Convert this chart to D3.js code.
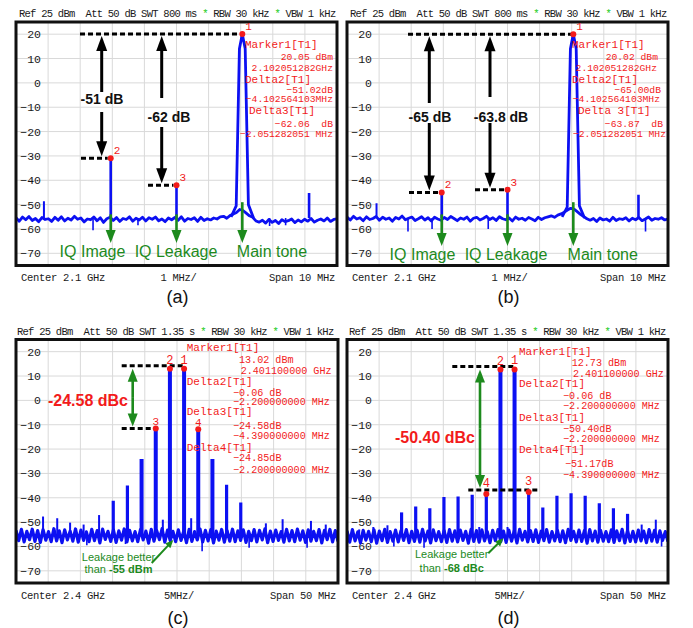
<!DOCTYPE html>
<html><head><meta charset="utf-8">
<script src="https://cdn.jsdelivr.net/npm/d3@7"></script>
<style>
body{margin:0;background:#fff;}
svg{display:block;}
text{white-space:pre;}
</style></head><body>
<svg id="c" width="693" height="628"></svg>
<script>
// ---------------- DATA ----------------
const yTicks = [20,10,0,-10,-20,-30,-40,-50,-60,-70];
const headerAB = ["Ref 25 dBm  Att 50 dB SWT 800 ms ", "*", " RBW 30 kHz ", "*", " VBW 1 kHz"];
const headerCD = ["Ref 25 dBm  Att 50 dB SWT 1.35 s ", "*", " RBW 30 kHz ", "*", " VBW 1 kHz"];
const footAB = ["Center 2.1 GHz", "1 MHz/", "Span 10 MHz"];
const footCD = ["Center 2.4 GHz", "5MHz/", "Span 50 MHz"];
const spanAB = 10, spanCD = 50;

// noise floor traces (dBm), evenly over the span
const aNoise = [-55.4,-56.8,-55.1,-56.2,-54.9,-56.5,-55.7,-57.0,-55.3,-56.1,
-55.8,-56.9,-55.2,-56.4,-55.0,-56.7,-55.6,-56.3,-54.8,-56.0,
-55.5,-57.1,-55.9,-56.2,-55.1,-56.6,-55.4,-57.3,-55.8,-55.2,
-56.5,-55.3,-56.9,-55.7,-56.1,-55.0,-56.8,-55.6,-56.3,-55.2,
-56.7,-55.4,-56.0,-55.1,-56.6,-55.9,-57.0,-55.5,-56.2,-55.3,
-56.4,-55.0,-56.8,-55.7,-56.1,-55.4,-56.9,-55.2,-56.5,-55.8,
-56.3,-55.5,-55.9,-55.0,-54.8,-55.6,-54.5,-53.9,-53.2,-52.0,
-52.4,-53.5,-54.6,-55.2,-56.7,-57.2,-56.4,-57.6,-56.1,-57.3,
-56.5,-57.8,-56.2,-57.0,-56.6,-55.9,-57.4,-56.3,-57.1,-56.0,
-56.8,-55.7,-57.2,-56.4,-55.9,-56.7,-55.5,-56.9,-56.1,-55.8];
const bNoise = [-55.1,-56.3,-54.8,-55.9,-55.4,-56.6,-55.0,-56.1,-55.7,-54.9,
-56.4,-55.2,-56.0,-55.5,-56.8,-55.3,-55.9,-54.7,-56.2,-55.6,
-55.1,-56.5,-55.8,-55.0,-56.3,-55.4,-56.7,-55.2,-55.9,-56.4,
-55.3,-56.1,-54.9,-55.7,-56.6,-55.5,-56.0,-55.1,-56.8,-55.6,
-55.2,-56.3,-55.7,-54.8,-56.1,-55.4,-56.5,-55.0,-55.8,-56.2,
-55.5,-56.7,-55.1,-56.0,-55.6,-56.4,-55.3,-55.9,-56.6,-55.2,
-56.1,-55.4,-55.0,-54.6,-55.2,-54.3,-53.8,-53.1,-52.2,-51.5,
-51.8,-52.9,-54.0,-54.9,-55.8,-56.4,-55.7,-56.9,-55.5,-56.3,
-55.9,-56.8,-55.2,-56.5,-55.8,-56.1,-55.4,-56.7,-55.6,-56.2,
-55.3,-56.6,-55.9,-55.1,-56.4,-55.7,-56.0,-55.4,-56.3,-55.8];
const cNoise = [-53.4,-57.6,-53.0,-58.1,-53.8,-57.2,-52.9,-57.9,-53.5,-58.3,
-53.1,-57.4,-53.9,-58.0,-52.7,-57.7,-53.6,-58.4,-53.2,-57.3,
-53.7,-57.8,-52.8,-58.2,-53.3,-57.5,-54.0,-58.0,-53.0,-57.6,
-53.5,-58.5,-52.9,-57.1,-53.8,-57.9,-53.2,-58.3,-53.6,-57.4,
-52.8,-58.1,-53.4,-57.7,-53.9,-58.0,-53.1,-57.3,-53.7,-58.6,
-53.0,-57.8,-53.5,-57.2,-52.7,-58.2,-53.3,-57.6,-53.8,-58.0,
-53.2,-57.5,-53.6,-58.4,-53.0,-57.9,-53.9,-57.3,-52.8,-58.1,
-53.4,-57.7,-53.1,-58.5,-53.7,-57.4,-53.0,-58.2,-53.5,-57.8,
-52.9,-58.0,-53.6,-57.5,-53.2,-58.3,-53.8,-57.6,-53.1,-58.1,
-53.4,-57.3,-52.8,-58.4,-53.7,-57.9,-53.3,-57.5,-53.9,-58.2,
-53.0,-57.7,-53.5,-58.0,-52.9,-57.4,-53.6,-58.3,-53.2,-57.8,
-53.8,-57.6,-53.1,-58.5,-53.4,-57.2,-53.0,-58.1,-53.5,-57.9];
const dNoise = [-53.6,-58.2,-53.1,-57.7,-54.0,-58.5,-53.4,-57.4,-53.8,-58.0,
-53.2,-58.6,-53.7,-57.6,-53.0,-58.3,-53.9,-57.8,-53.3,-58.1,
-53.6,-57.5,-53.1,-58.4,-53.8,-57.9,-53.4,-58.2,-53.0,-57.7,
-53.7,-58.5,-53.2,-57.6,-53.9,-58.0,-53.5,-58.3,-53.1,-57.8,
-53.6,-58.1,-53.3,-57.5,-53.8,-58.6,-53.0,-57.9,-53.5,-58.2,
-53.2,-57.7,-53.9,-58.4,-53.4,-57.6,-53.1,-58.0,-53.7,-58.3,
-53.3,-57.8,-53.6,-58.5,-53.0,-57.4,-53.8,-58.1,-53.5,-57.9,
-53.2,-58.3,-53.7,-57.6,-53.1,-58.2,-53.9,-57.7,-53.4,-58.0,
-53.6,-58.4,-53.0,-57.5,-53.8,-58.1,-53.3,-57.9,-53.5,-58.6,
-53.1,-57.7,-53.7,-58.2,-53.4,-57.8,-53.9,-58.0,-53.2,-58.3,
-53.6,-57.6,-53.0,-58.5,-53.5,-57.9,-53.8,-58.1,-53.3,-57.7,
-53.7,-58.4,-53.1,-57.8,-53.4,-58.2,-53.6,-57.5,-53.9,-58.0];

// spectral lines: [offset MHz from center, level dBm]
const aSpikes = [[-4.13,-48.6],[-2.05,-30.97],[0,-42.01],[4.13,-45.2]];
const bSpikes = [[-4.08,-49.4],[-2.05,-44.98],[0,-43.85],[4.08,-45.9]];
const aMain = [[1.70,-55],[1.86,-50.5],[1.96,14],[2.05,20.05],[2.14,14],[2.24,-50],[2.40,-55.5]];
const bMain = [[1.70,-55],[1.86,-51],[1.96,14],[2.05,20.02],[2.14,14],[2.24,-50.5],[2.40,-55.5]];
const cSpikes = [[-20.8,-47.7],[-18.6,-48.4],[-16.6,-50.2],[-14.5,-51],[-12.1,-47.1],
 [-9.9,-41.2],[-7.7,-35],[-5.5,-24.1],[-3.3,-11.56],[-2.2,-49],[-1.1,12.96],
 [1.1,13.02],[2.2,-48.4],[3.3,-11.83],[5.5,-24.1],[7.7,-34.7],[9.9,-41.9],
 [13.8,-50.5],[16.4,-48.8],[20.8,-49.5],[23.1,-51]];
const dSpikes = [[-23.1,-53],[-20.9,-52],[-18.7,-51.3],[-16.5,-46],[-14.3,-43.6],[-12.1,-44.3],
 [-9.9,-39.7],[-7.7,-39.5],[-5.5,-38.8],[-4.4,-52],[-3.3,-38.44],[-1.1,12.67],[0,-52],
 [1.1,12.73],[3.3,-37.67],[5.5,-44],[7.7,-39.2],[9.9,-38.1],[12.1,-39.2],[14.3,-42.2],
 [16.5,-44.3],[18.7,-46.6],[20.9,-51],[23.1,-49]];
// downward noise excursions: [offset MHz, level dBm]
const aDips = [[-2.6,-60.5],[-1.2,-58.5],[2.9,-58.8],[3.4,-58.5]];
const bDips = [[-3.1,-61],[-2.35,-60],[-0.6,-60],[4.3,-61]];
const cDips = [[-14,-59.5],[-8,-59],[3.9,-62],[11.2,-60.5],[20.2,-60.5]];
const dDips = [[-17.7,-60],[-13,-60.5],[24,-60]];

// markers: [offset MHz, level dBm, label]
const aMarkers = [[2.05,20.05,"1"],[-2.05,-30.97,"2"],[0,-42.01,"3"]];
const bMarkers = [[2.05,20.02,"1"],[-2.05,-44.98,"2"],[0,-43.85,"3"]];
const cMarkers = [[1.1,13.02,"1"],[-1.1,12.96,"2"],[-3.3,-11.56,"3"],[3.3,-11.83,"4"]];
const dMarkers = [[1.1,12.73,"1"],[-1.1,12.67,"2"],[3.3,-37.67,"3"],[-3.3,-38.44,"4"]];

// marker readouts
const aRead = ["Marker1[T1]","20.05 dBm","2.102051282GHz","Delta2[T1]","\u221251.02dB","\u22124.102564103MHz","Delta3[T1]","\u221262.06  dB","\u22122.051282051 MHz"];
const bRead = ["Marker1[T1]","20.02 dBm","2.102051282GHz","Delta2[T1]","\u221265.00dB","\u22124.102564103MHz","Delta 3[T1]","\u221263.87  dB","\u22122.051282051 MHz"];
const cRead = ["Marker1[T1]","13.02 dBm","2.401100000 GHz","Delta2[T1]","\u22120.06 dB","\u22122.200000000 MHz","Delta3[T1]","\u221224.58dB","\u22124.390000000 MHz","Delta4[T1]","\u221224.85dB","\u22122.200000000 MHz"];
const dRead = ["Marker1[T1]","12.73 dBm","2.401100000 GHz","Delta2[T1]","\u22120.06 dB","\u22122.200000000 MHz","Delta3[T1]","\u221250.40dB","\u22122.200000000 MHz","Delta4[T1]","\u221251.17dB","\u22124.390000000 MHz"];

const abGreen = ["IQ Image","IQ Leakage","Main tone"];
const abDelta = [["-51 dB","-62 dB"],["-65 dB","-63.8 dB"]];
const cdDelta = ["-24.58 dBc","-50.40 dBc"];
const cdLeak = [["Leakage better","than ","-55 dBm"],["Leakage better","than ","-68 dBc"]];
const captions = ["(a)","(b)","(c)","(d)"];

// ---------------- DRAW ----------------
const svg = d3.select('#c');
const RED='#f21b1b', GREEN='#1d8a1d', BLUE='#0c10f2';
const MONO="'Liberation Mono','DejaVu Sans Mono',monospace";
const SANS="'Liberation Sans',Arial,sans-serif";
const fmtTick = v => (v<0?"\u2212":"")+Math.abs(v);

function arrow(g,x1,y1,x2,y2,color,w,hl,hw){
  const a=Math.atan2(y2-y1,x2-x1);
  const bx=x2-hl*Math.cos(a), by=y2-hl*Math.sin(a);
  g.append('line').attr('x1',x1).attr('y1',y1).attr('x2',bx+Math.cos(a)).attr('y2',by+Math.sin(a))
    .attr('stroke',color).attr('stroke-width',w);
  const px=-Math.sin(a)*hw/2, py=Math.cos(a)*hw/2;
  g.append('path').attr('d',`M${x2},${y2}L${bx+px},${by+py}L${bx-px},${by-py}Z`).attr('fill',color);
}
function dashed(g,x1,x2,yy){
  g.append('line').attr('x1',x1).attr('x2',x2).attr('y1',yy).attr('y2',yy)
    .attr('stroke','#000').attr('stroke-width',3).attr('stroke-dasharray','5,3');
}
function txt(g,x,y,s,o){
  const t=g.append('text').attr('x',x).attr('y',y).text(s)
    .attr('font-family',o.font||MONO).attr('font-size',o.size||10)
    .attr('fill',o.fill||'#222').attr('text-anchor',o.anchor||'start');
  if(o.bold) t.attr('font-weight','bold');
  if(o.ls!==undefined) t.attr('letter-spacing',o.ls);
  return t;
}

function panel(p){
  const x=d3.scaleLinear().domain([-p.span/2,p.span/2]).range([p.L,p.R]);
  const y=d3.scaleLinear().domain([25,-75]).range([p.T,p.B]);
  const g=svg.append('g');
  p.x=x; p.y=y;
  let hx=p.hx;
  p.header.forEach(s=>{
    const t=txt(g,hx,p.T-5,s,{size:10.5,ls:-0.75,fill:s==='*'?'#22cc22':'#1a1a1a'});
    hx+=t.node().getComputedTextLength();
  });
  const div=p.span/10;
  g.selectAll(null).data(d3.range(1,10)).join('line')
    .attr('x1',i=>x(-p.span/2+i*div)).attr('x2',i=>x(-p.span/2+i*div))
    .attr('y1',p.T).attr('y2',p.B).attr('stroke','#d9d9d9').attr('stroke-width',1);
  g.selectAll(null).data(yTicks).join('line')
    .attr('x1',p.L).attr('x2',p.R).attr('y1',d=>y(d)).attr('y2',d=>y(d))
    .attr('stroke','#d9d9d9').attr('stroke-width',1);
  g.selectAll(null).data(yTicks).join('text')
    .attr('x',p.L+25).attr('y',d=>y(d)+4).attr('text-anchor','end')
    .attr('font-family',MONO).attr('font-size',11.5).attr('fill','#1a1a1a').text(fmtTick);
  const cid='clip'+p.id;
  svg.append('clipPath').attr('id',cid).append('rect')
    .attr('x',p.L).attr('y',p.T).attr('width',p.R-p.L).attr('height',p.B-p.T);
  const tg=g.append('g').attr('clip-path',`url(#${cid})`);
  const line=d3.line().x(d=>x(d[0])).y(d=>y(d[1]));
  const n=p.noise.length;
  const pts=p.noise.map((v,i)=>[-p.span/2+i*p.span/(n-1),v]);
  tg.append('path').attr('d',line(pts)).attr('fill','none').attr('stroke',BLUE)
    .attr('stroke-width',p.noiseW).attr('stroke-linejoin','round');
  tg.selectAll(null).data(p.dips).join('line')
    .attr('x1',d=>x(d[0])).attr('x2',d=>x(d[0])).attr('y1',y(-55.5)).attr('y2',d=>y(d[1]))
    .attr('stroke',BLUE).attr('stroke-width',1.6);
  tg.selectAll(null).data(p.spikes).join('line')
    .attr('x1',d=>x(d[0])).attr('x2',d=>x(d[0])).attr('y1',y(-55.5)).attr('y2',d=>y(d[1]))
    .attr('stroke',BLUE).attr('stroke-width',d=>d[1]>-30?p.bigW:(d[1]>-47?p.midW:2));
  if(p.main) tg.append('path').attr('d',line(p.main)).attr('fill','none').attr('stroke',BLUE)
    .attr('stroke-width',2.8).attr('stroke-linejoin','round');
  g.append('rect').attr('x',p.L).attr('y',p.T).attr('width',p.R-p.L).attr('height',p.B-p.T)
    .attr('fill','none').attr('stroke','#111').attr('stroke-width',3);
  const fy=p.B+15.5;
  txt(g,p.L+5,fy,p.foot[0],{size:10.5,ls:-0.3,fill:'#1a1a1a'});
  txt(g,(p.L+p.R)/2+2,fy,p.foot[1],{size:10.5,anchor:'middle',ls:-0.3,fill:'#1a1a1a'});
  txt(g,p.R-2,fy,p.foot[2],{size:10.5,anchor:'end',ls:-0.3,fill:'#1a1a1a'});
  txt(g,(p.L+p.R)/2+1,p.capY,p.caption,{font:SANS,size:18,anchor:'middle',fill:'#111'});
  p.g=g;
  return p;
}
function markers(p,mk){
  mk.forEach(m=>{
    p.g.append('circle').attr('cx',p.x(m[0])).attr('cy',p.y(m[1])).attr('r',3).attr('fill',RED);
  });
}
function readout(p,lines,pos,vs){
  lines.forEach((s,i)=>{
    const q=pos[i];
    txt(p.g,q[0],q[1],s,{fill:RED,size:q[3]||vs,anchor:q[2]||'start'});
  });
}

const A=panel({id:'a',L:16,R:337,T:22,B:265.5,span:spanAB,noise:aNoise,spikes:aSpikes,dips:aDips,main:aMain,
  noiseW:2.8,bigW:2.6,midW:2.6,header:headerAB,hx:19,foot:footAB,caption:captions[0],capY:303});
const B=panel({id:'b',L:347,R:668,T:22,B:265.5,span:spanAB,noise:bNoise,spikes:bSpikes,dips:bDips,main:bMain,
  noiseW:2.8,bigW:2.6,midW:2.6,header:headerAB,hx:350,foot:footAB,caption:captions[1],capY:303});
const C=panel({id:'c',L:16,R:338,T:339.5,B:583,span:spanCD,noise:cNoise,spikes:cSpikes,dips:cDips,
  noiseW:3.2,bigW:4,midW:3.2,header:headerCD,hx:17,foot:footCD,caption:captions[2],capY:624});
const D=panel({id:'d',L:347,R:668,T:339.5,B:583,span:spanCD,noise:dNoise,spikes:dSpikes,dips:dDips,
  noiseW:3.2,bigW:4,midW:3.2,header:headerCD,hx:349,foot:footCD,caption:captions[3],capY:624});

[[A,aMarkers,abDelta[0]],[B,bMarkers,abDelta[1]]].forEach(([p,mk,dl],k)=>{
  const {x,y,g}=p;
  const yTop=y(mk[0][1]);
  const ax = k===0 ? [101.7,161.7] : [429.3,490];
  const dashStart = k===0 ? [80,81,148] : [408,409,475];
  dashed(g,dashStart[0],x(mk[0][0])-2,yTop);
  const up = k===0 ? [92,98] : [103,97];
  const dn = k===0 ? [112,127] : [123,123];
  const tx = k===0 ? [102,169] : [430,501];
  const ty = k===0 ? [104,122] : [122,122];
  [1,2].forEach(j=>{
    const i=j-1, lev=mk[j][1];
    arrow(g,ax[i],up[i],ax[i],yTop+2,'#000',3,15,11);
    arrow(g,ax[i],dn[i],ax[i],y(lev)-2,'#000',3,15,11);
    dashed(g,dashStart[j],x(mk[j][0])-3,y(lev));
    txt(g,tx[i],ty[i],dl[i],{font:SANS,size:14,bold:true,anchor:'middle',fill:'#111'});
  });
  const tones=[mk[1][0],mk[2][0],mk[0][0]];
  const starts=[y(-54),y(-54),y(-49)];
  const tip = k===0?243:246;
  tones.forEach((f,i)=>arrow(g,x(f),starts[i],x(f),tip,GREEN,2.6,13,10));
  const lx = k===0 ? [92.5,176,272] : [422.5,506,602.7];
  abGreen.forEach((s,i)=>txt(g,lx[i],k===0?257:259.5,s,{font:SANS,size:16,anchor:'middle',fill:GREEN}));
  markers(p,mk);
  mk.forEach(m=>txt(g,x(m[0])+3,y(m[1])-4,m[2],{size:11,fill:RED}));
});
readout(A,aRead,[[245,48,'start',11],[333,60,'end'],[333,70.5,'end'],[245,83,'start',11],[333,92.5,'end'],[333,102,'end'],[249,113.5,'start',11],[333,127,'end'],[333,136.5,'end']],9.7);
readout(B,bRead,[[572,48,'start',11],[658,60,'end'],[657,70.5,'end'],[572,83,'start',11],[661,92.5,'end'],[660,102,'end'],[578,113.5,'start',11],[663,127,'end'],[666,137,'end']],9.7);

[[C,cMarkers],[D,dMarkers]].forEach(([p,mk],k)=>{
  const {x,y,g}=p;
  const m1=mk[0];
  const top=y(m1[1])-3, low = k===0 ? y(mk[2][1]) : y(mk[2][1])-2;
  if(k===0){
    dashed(g,121.7,x(m1[0]),top);
    dashed(g,121.7,x(mk[2][0]),low);
    arrow(g,132.7,(top+low)/2,132.7,top+3,GREEN,2.6,13,10);
    arrow(g,132.7,(top+low)/2,132.7,low-2,GREEN,2.6,13,10);
    txt(g,88,406,cdDelta[0],{font:SANS,size:16,bold:true,anchor:'middle',fill:RED});
  } else {
    dashed(g,452.3,x(m1[0]),top);
    dashed(g,468.3,538.3,low);
    arrow(g,480,(top+low)/2,480,top+3,GREEN,2.6,13,10);
    arrow(g,480,(top+low)/2,480,low-2,GREEN,2.6,13,10);
    txt(g,435,442.7,cdDelta[1],{font:SANS,size:16,bold:true,anchor:'middle',fill:RED});
  }
  markers(p,mk);
  mk.forEach(m=>{
    const off = m[1]>0 ? 5 : (k===0 ? 3.5 : 7);
    txt(g,x(m[0]),y(m[1])-off,m[2],{size:(m[1]<0&&k===0)?11:12,fill:RED,anchor:'middle'});
  });
  const lc = k===0 ? [118.5,560.5,573] : [451.7,558,571.5];
  const L = cdLeak[k];
  txt(g,lc[0],lc[1],L[0],{font:SANS,size:11,anchor:'middle',fill:GREEN});
  const t=txt(g,lc[0],lc[2],L[1],{font:SANS,size:11,anchor:'middle',fill:GREEN});
  t.append('tspan').attr('font-weight','bold').text(L[2]);
  if(k===0) arrow(g,151.7,563,173.3,540,GREEN,2,8,7);
  else arrow(g,488.3,553.3,503.3,538.3,GREEN,2,8,7);
});
readout(C,cRead,[[186.7,350.5,'start',11],[239,362.5],[240.7,374],[186.7,384.5,'start',11],[233,395.5],[233,405],[186.7,414.5,'start',11],[233,428.5],[233,439],[186.7,450.5,'start',11],[233,461],[233,472.5]],10.1);
readout(D,dRead,[[519,354.5,'start',11],[571.7,365.5],[573,376.5],[519,387,'start',11],[563,398.5],[563,409],[519,420.5,'start',11],[563,431.5],[563,442],[519,453,'start',11],[565,466.5],[563,477.5]],10.1);
</script>
</body></html>
